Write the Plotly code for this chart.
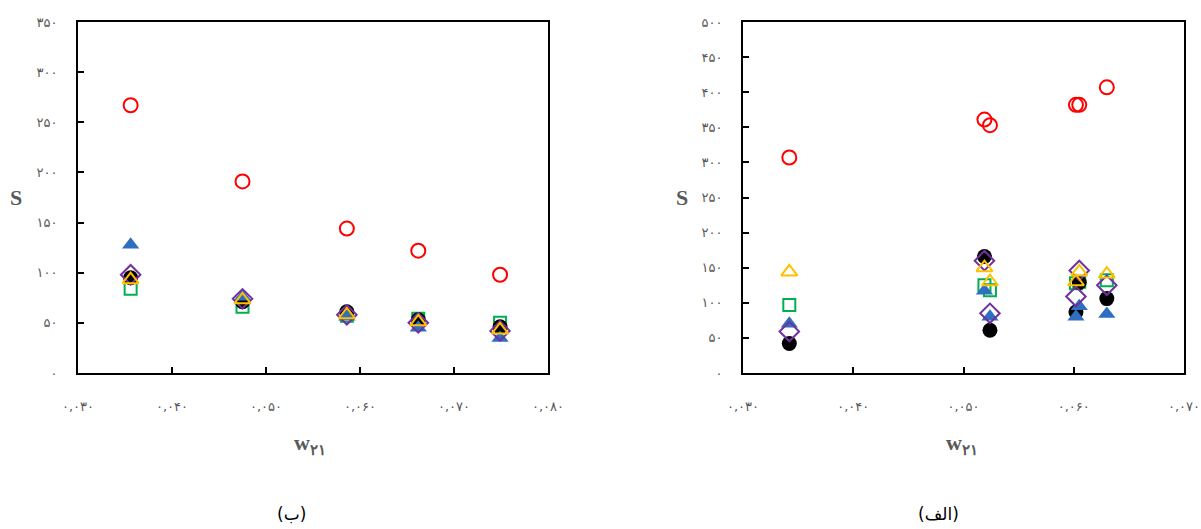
import plotly.graph_objects as go

W, H = 1201, 529

# ---- Data: panel (ب) (left) ----
b_x = [0.0356, 0.0475, 0.0586, 0.0662, 0.0749]
b_red = [267, 191, 144, 122, 98]
b_blue = [128, 76, 56, 45, 35]
b_purple = [98, 74, 58, 50, 42]
b_black = [95, 71, 61, 53, 46]
b_yellow = [93, 73, 58, 51, 43]
b_green = [84, 66, 57, 54, 50]

# ---- Data: panel (الف) (right) ----
a_x = [0.0342, 0.0519, 0.0524, 0.0602, 0.0605, 0.0630]
a_red = [307, 361, 353, 382, 382, 407]
a_yellow = [144, 150, 130, 130, 144, 141]
a_green = [97, 125, 118, 128, 130, 132]
a_blue = [70, 117, 80, 80, 95, 84]
a_purple = [59, 160, 85, 109, 146, 125]
a_black = [42, 166, 61, 87, 129, 106]

left_ticks = [0.030, 0.040, 0.050, 0.060, 0.070, 0.080]
left_tick_text = ["۰,۰۳۰", "۰,۰۴۰", "۰,۰۵۰", "۰,۰۶۰", "۰,۰۷۰", "۰,۰۸۰"]
right_ticks = [0.030, 0.040, 0.050, 0.060, 0.070]
right_tick_text = ["۰,۰۳۰", "۰,۰۴۰", "۰,۰۵۰", "۰,۰۶۰", "۰,۰۷۰"]
left_y_ticks = [0, 50, 100, 150, 200, 250, 300, 350]
left_y_text = ["۰", "۵۰", "۱۰۰", "۱۵۰", "۲۰۰", "۲۵۰", "۳۰۰", "۳۵۰"]
right_y_ticks = [0, 50, 100, 150, 200, 250, 300, 350, 400, 450, 500]
right_y_text = ["۰", "۵۰", "۱۰۰", "۱۵۰", "۲۰۰", "۲۵۰", "۳۰۰", "۳۵۰", "۴۰۰", "۴۵۰", "۵۰۰"]

RED = "#FF0000"
BLUE = "#2E6FC0"
PURPLE = "#7030A0"
BLACK = "#000000"
YELLOW = "#FFC000"
GREEN = "#00B050"

fig = go.Figure()


def add_series(xa, ya, xs, ys, symbol, color, filled, size):
    if filled:
        marker = dict(symbol=symbol, size=size, color=color, line=dict(width=0))
    else:
        marker = dict(symbol=symbol + "-open", size=size, color=color, line=dict(width=2, color=color))
    fig.add_trace(go.Scatter(x=xs, y=ys, mode="markers", marker=marker,
                             xaxis=xa, yaxis=ya, showlegend=False, hoverinfo="x+y"))


for xa, ya, xs, d in [
    ("x", "y", b_x, dict(green=b_green, black=b_black, blue=b_blue, purple=b_purple, yellow=b_yellow, red=b_red)),
    ("x2", "y2", a_x, dict(green=a_green, black=a_black, blue=a_blue, purple=a_purple, yellow=a_yellow, red=a_red)),
]:
    add_series(xa, ya, xs, d["green"], "square", GREEN, False, 12)
    add_series(xa, ya, xs, d["black"], "circle", BLACK, True, 15)
    add_series(xa, ya, xs, d["blue"], "triangle-up", BLUE, True, 15)
    add_series(xa, ya, xs, d["purple"], "diamond", PURPLE, False, 15)
    add_series(xa, ya, xs, d["yellow"], "triangle-up", YELLOW, False, 14)
    add_series(xa, ya, xs, d["red"], "circle", RED, False, 14)

tickfont = dict(family="DejaVu Sans", size=13, color="#595959")
ax_common = dict(showgrid=False, zeroline=False, showline=True, linecolor="black", linewidth=2,
                 mirror=True, ticks="inside", ticklen=6, tickwidth=2, tickcolor="black",
                 tickfont=tickfont, tickmode="array", automargin=False)

fig.update_layout(
    width=W, height=H, margin=dict(l=0, r=0, t=0, b=0, autoexpand=False),
    paper_bgcolor="white", plot_bgcolor="white",
    xaxis=dict(domain=[78 / W, 548 / W], range=[0.030, 0.080], tickvals=left_ticks,
               ticktext=left_tick_text, anchor="y", ticklabelstandoff=20, **ax_common),
    yaxis=dict(domain=[1 - 373 / H, 1 - 22 / H], range=[0, 350], tickvals=left_y_ticks,
               ticktext=left_y_text, anchor="x", ticklabelstandoff=16, **ax_common),
    xaxis2=dict(domain=[743 / W, 1184 / W], range=[0.030, 0.070], tickvals=right_ticks,
                ticktext=right_tick_text, anchor="y2", ticklabelstandoff=20, **ax_common),
    yaxis2=dict(domain=[1 - 373 / H, 1 - 22 / H], range=[0, 500], tickvals=right_y_ticks,
                ticktext=right_y_text, anchor="x2", ticklabelstandoff=16, **ax_common),
)

title_font = dict(family="Liberation Serif", size=22, color="#595959")
label_font = dict(family="DejaVu Sans", size=17, color="black")


def ann(px, py, text, font):
    fig.add_annotation(x=px / W, y=1 - py / H, xref="paper", yref="paper", text=text,
                       showarrow=False, font=font, xanchor="center", yanchor="middle")


ann(16, 197, "<b>S</b>", title_font)
ann(682, 197, "<b>S</b>", title_font)
ann(310, 444, "<b>w<sub>۲۱</sub></b>", title_font)
ann(962, 444, "<b>w<sub>۲۱</sub></b>", title_font)
ann(291, 514, "(ب)", label_font)
ann(938, 514, "(الف)", label_font)

fig.write_html("out.html", config={"displayModeBar": False},
               post_script="document.body.style.margin='0';document.body.style.padding='0';document.body.style.overflow='hidden';")
